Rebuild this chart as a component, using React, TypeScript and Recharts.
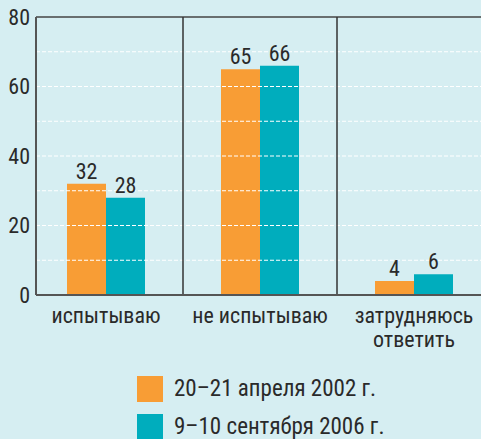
import React from "react";
import { BarChart, Bar, XAxis, YAxis, ReferenceLine, LabelList, Legend } from "recharts";

const categories = ["испытываю", "не испытываю", "затрудняюсь\nответить"];
const series2002 = [32, 65, 4];
const series2006 = [28, 66, 6];
const seriesNames = ["20–21 апреля 2002 г.", "9–10 сентября 2006 г."];
const yTicks = [0, 20, 40, 60, 80];
const gridValues = [10, 20, 30, 40, 50, 60, 70];

const COLORS = ["#f89d35", "#00adbd"];
const FONT = "'Roboto Condensed', 'Liberation Sans Narrow', Roboto, Arial, sans-serif";
const TEXT = "#2a2a2a";
const W = 400;

const data = categories.map((c, i) => ({ name: c, a: series2002[i], b: series2006[i] }));

const CatTick = (props: any) => {
  const { x, y, payload } = props;
  const lines = String(payload.value).split("\n");
  return (
    <text x={x} y={y} textAnchor="middle" fill={TEXT} fontSize={22} fontWeight={W} fontFamily={FONT}>
      {lines.map((l, i) => (
        <tspan key={i} x={x} dy={i === 0 ? 20 : 24}>
          {l}
        </tspan>
      ))}
    </text>
  );
};

const LegendContent = () => (
  <div style={{ fontFamily: FONT, fontSize: 23, fontWeight: W, color: TEXT }}>
    {seriesNames.map((n, i) => (
      <div key={i} style={{ display: "flex", alignItems: "center", height: 26, marginBottom: 12 }}>
        <div style={{ width: 26, height: 26, background: COLORS[i], marginRight: 11 }} />
        <span style={{ lineHeight: "26px" }}>{n}</span>
      </div>
    ))}
  </div>
);

export default function App() {
  return (
    <div
      style={{
        position: "absolute",
        left: 0,
        top: 0,
        width: 481,
        height: 439,
        overflow: "hidden",
        background: "#d6eef2",
      }}
    >
      <BarChart
        width={500}
        height={439}
        data={data}
        margin={{ top: 17, right: 9, left: 0, bottom: 104 }}
        barGap={0}
      >
        <XAxis
          dataKey="name"
          height={40}
          tickLine={false}
          padding={{ left: -7, right: 0 }}
          axisLine={{ stroke: "#555", strokeWidth: 2 }}
          tick={<CatTick />}
          interval={0}
        />
        <YAxis
          width={36}
          domain={[0, 80]}
          ticks={yTicks}
          tickLine={false}
          tickSize={0}
          tickMargin={6}
          axisLine={{ stroke: "#555", strokeWidth: 2 }}
          tick={{ fill: TEXT, fontSize: 22, fontWeight: W, fontFamily: FONT }}
        />
        <Bar dataKey="a" name={seriesNames[0]} fill={COLORS[0]} barSize={39} isAnimationActive={false}>
          <LabelList dataKey="a" position="top" offset={5} fill={TEXT} fontSize={22} fontWeight={W} fontFamily={FONT} />
        </Bar>
        <Bar dataKey="b" name={seriesNames[1]} fill={COLORS[1]} barSize={39} isAnimationActive={false}>
          <LabelList dataKey="b" position="top" offset={5} fill={TEXT} fontSize={22} fontWeight={W} fontFamily={FONT} />
        </Bar>
        {gridValues.map((v) => (
          <ReferenceLine key={"g" + v} y={v} stroke="#ffffff" strokeWidth={1.2} strokeDasharray="4 2" />
        ))}
        <ReferenceLine y={80} stroke="#444" strokeWidth={1.5} />
        <ReferenceLine x={categories[1]} position="start" stroke="#333" strokeWidth={1.5} />
        <ReferenceLine x={categories[2]} position="start" stroke="#333" strokeWidth={1.5} />
        <Legend
          layout="vertical"
          align="center"
          verticalAlign="middle"
          content={<LegendContent />}
          wrapperStyle={{ position: "absolute", left: 137, top: 376, width: 300, height: 80 }}
        />
      </BarChart>
    </div>
  );
}
